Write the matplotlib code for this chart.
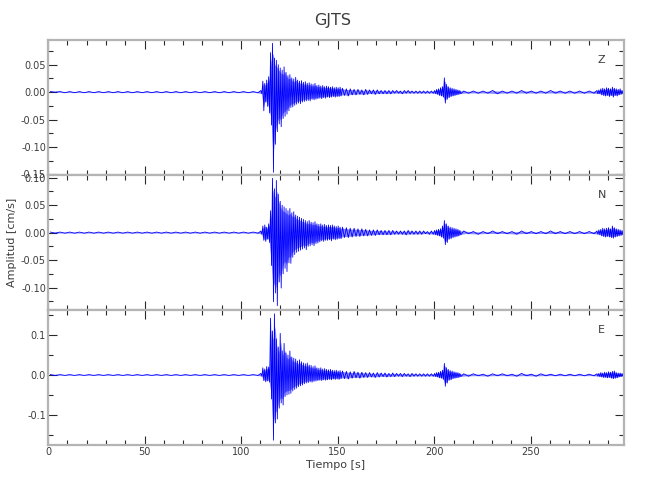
import numpy as np
import matplotlib
matplotlib.use("Agg")
import matplotlib.pyplot as plt
from matplotlib.ticker import MultipleLocator, FormatStrFormatter

# ---------------- data ----------------
title = "GJTS"
components = ["Z", "N", "E"]
x_label = "Tiempo [s]"
y_label = "Amplitud [cm/s]"

# time segments: start, end, bin width (s)
seg_start = [0, 110, 152, 200, 214, 284]
seg_end = [110, 152, 200, 214, 284, 298]
seg_step = [5, 1, 2, 1, 5, 1]

# envelope (upper / lower peak) per time bin, cm/s
z_hi = [0.001, 0.001, 0.001, 0.001, 0.001, 0.001, 0.001, 0.001, 0.001, 0.001, 0.001, 0.001, 0.001, 0.001, 0.001, 0.001, 0.001, 0.001, 0.001, 0.001, 0.001, 0.001,
        0.003, 0.020, 0.016, 0.022, 0.028, 0.072, 0.089, 0.062, 0.058, 0.050, 0.044, 0.040, 0.046, 0.036, 0.030, 0.032, 0.026, 0.024, 0.027, 0.022, 0.020,
        0.021, 0.018, 0.019, 0.016, 0.017, 0.015, 0.014, 0.016, 0.012, 0.013, 0.011, 0.012, 0.010, 0.011, 0.010, 0.009, 0.010, 0.008, 0.009, 0.008, 0.009,
        0.007, 0.006, 0.006, 0.005, 0.005, 0.004, 0.005, 0.004, 0.004, 0.004, 0.003, 0.003, 0.003, 0.003, 0.003, 0.002, 0.003, 0.003, 0.002, 0.002, 0.002, 0.002, 0.002, 0.002,
        0.003, 0.005, 0.006, 0.008, 0.010, 0.026, 0.014, 0.010, 0.008, 0.007, 0.006, 0.005, 0.004, 0.003,
        0.002, 0.002, 0.002, 0.003, 0.002, 0.002, 0.003, 0.002, 0.002, 0.003, 0.002, 0.002, 0.002, 0.002,
        0.003, 0.004, 0.006, 0.007, 0.006, 0.008, 0.007, 0.006, 0.009, 0.007, 0.006, 0.005, 0.006, 0.003]
z_lo = [0.000, -0.001, -0.001, -0.001, -0.001, -0.001, -0.001, -0.001, -0.001, -0.001, -0.001, -0.001, -0.001, -0.001, -0.001, -0.001, -0.001, -0.001, -0.001, -0.001, -0.001, -0.001,
        -0.003, -0.034, -0.018, -0.026, -0.038, -0.060, -0.146, -0.095, -0.072, -0.058, -0.063, -0.048, -0.044, -0.040, -0.034, -0.028, -0.027, -0.024, -0.022, -0.020, -0.021,
        -0.018, -0.017, -0.016, -0.015, -0.016, -0.013, -0.014, -0.013, -0.012, -0.011, -0.012, -0.010, -0.011, -0.009, -0.010, -0.009, -0.008, -0.009, -0.008, -0.008, -0.007,
        -0.006, -0.007, -0.005, -0.005, -0.004, -0.005, -0.004, -0.003, -0.004, -0.003, -0.003, -0.003, -0.003, -0.002, -0.002, -0.003, -0.002, -0.002, -0.002, -0.002, -0.002, -0.002, -0.002, -0.002,
        -0.003, -0.004, -0.006, -0.007, -0.009, -0.020, -0.013, -0.010, -0.008, -0.007, -0.006, -0.005, -0.004, -0.003,
        -0.002, -0.002, -0.002, -0.003, -0.002, -0.002, -0.002, -0.002, -0.002, -0.002, -0.002, -0.002, -0.002, -0.002,
        -0.003, -0.003, -0.005, -0.006, -0.007, -0.006, -0.008, -0.006, -0.009, -0.006, -0.007, -0.005, -0.004, -0.003]

n_hi = [0.001, 0.001, 0.001, 0.001, 0.001, 0.001, 0.001, 0.001, 0.001, 0.001, 0.001, 0.001, 0.001, 0.001, 0.001, 0.001, 0.001, 0.001, 0.001, 0.001, 0.001, 0.001,
        0.003, 0.012, 0.014, 0.010, 0.016, 0.040, 0.099, 0.080, 0.095, 0.070, 0.057, 0.050, 0.047, 0.044, 0.040, 0.044, 0.036, 0.038, 0.032, 0.030, 0.028,
        0.026, 0.024, 0.022, 0.020, 0.022, 0.019, 0.018, 0.020, 0.016, 0.015, 0.016, 0.014, 0.015, 0.013, 0.014, 0.013, 0.014, 0.012, 0.011, 0.012, 0.010,
        0.010, 0.009, 0.008, 0.008, 0.007, 0.007, 0.006, 0.005, 0.005, 0.005, 0.004, 0.004, 0.004, 0.004, 0.003, 0.003, 0.003, 0.004, 0.003, 0.003, 0.003, 0.003, 0.002, 0.003,
        0.004, 0.005, 0.006, 0.007, 0.012, 0.022, 0.016, 0.012, 0.010, 0.009, 0.008, 0.007, 0.006, 0.004,
        0.003, 0.002, 0.002, 0.003, 0.002, 0.002, 0.003, 0.002, 0.002, 0.003, 0.002, 0.002, 0.002, 0.002,
        0.003, 0.005, 0.006, 0.008, 0.007, 0.008, 0.009, 0.007, 0.012, 0.009, 0.007, 0.006, 0.005, 0.004]
n_lo = [-0.001, -0.001, -0.001, -0.001, -0.001, -0.001, -0.001, -0.001, -0.001, -0.001, -0.001, -0.001, -0.001, -0.001, -0.001, -0.001, -0.001, -0.001, -0.001, -0.001, -0.001, -0.001,
        -0.003, -0.014, -0.016, -0.012, -0.018, -0.060, -0.126, -0.110, -0.133, -0.090, -0.101, -0.075, -0.065, -0.071, -0.055, -0.056, -0.045, -0.040, -0.036, -0.034, -0.032,
        -0.030, -0.028, -0.031, -0.025, -0.024, -0.022, -0.024, -0.020, -0.019, -0.017, -0.015, -0.016, -0.014, -0.014, -0.013, -0.015, -0.012, -0.013, -0.012, -0.011, -0.011,
        -0.009, -0.009, -0.008, -0.007, -0.007, -0.006, -0.006, -0.005, -0.005, -0.004, -0.004, -0.004, -0.004, -0.003, -0.003, -0.003, -0.004, -0.003, -0.003, -0.003, -0.003, -0.002, -0.003, -0.003,
        -0.004, -0.005, -0.006, -0.008, -0.010, -0.022, -0.018, -0.012, -0.011, -0.009, -0.008, -0.007, -0.006, -0.004,
        -0.002, -0.003, -0.002, -0.002, -0.002, -0.003, -0.002, -0.002, -0.002, -0.002, -0.002, -0.002, -0.002, -0.002,
        -0.003, -0.004, -0.006, -0.007, -0.008, -0.007, -0.008, -0.009, -0.010, -0.008, -0.007, -0.006, -0.005, -0.004]

e_hi = [0.001, 0.001, 0.001, 0.001, 0.001, 0.001, 0.001, 0.001, 0.001, 0.001, 0.001, 0.001, 0.001, 0.001, 0.001, 0.001, 0.001, 0.001, 0.001, 0.001, 0.001, 0.001,
        0.004, 0.018, 0.015, 0.021, 0.020, 0.142, 0.110, 0.153, 0.090, 0.070, 0.104, 0.060, 0.079, 0.055, 0.050, 0.060, 0.045, 0.042, 0.040, 0.035, 0.038,
        0.033, 0.030, 0.028, 0.030, 0.025, 0.024, 0.021, 0.023, 0.018, 0.017, 0.018, 0.015, 0.016, 0.014, 0.013, 0.014, 0.012, 0.011, 0.012, 0.010, 0.011,
        0.010, 0.009, 0.008, 0.009, 0.007, 0.007, 0.006, 0.006, 0.005, 0.006, 0.005, 0.005, 0.004, 0.005, 0.004, 0.004, 0.004, 0.003, 0.004, 0.003, 0.003, 0.003, 0.003, 0.003,
        0.004, 0.006, 0.007, 0.009, 0.012, 0.029, 0.018, 0.014, 0.011, 0.010, 0.008, 0.007, 0.006, 0.004,
        0.003, 0.003, 0.002, 0.003, 0.003, 0.002, 0.004, 0.002, 0.003, 0.002, 0.002, 0.002, 0.002, 0.002,
        0.003, 0.004, 0.006, 0.005, 0.007, 0.006, 0.008, 0.007, 0.009, 0.010, 0.006, 0.005, 0.005, 0.004]
e_lo = [-0.001, -0.001, -0.001, -0.001, -0.001, -0.001, -0.001, -0.001, -0.001, -0.001, -0.001, -0.001, -0.001, -0.001, -0.001, -0.001, -0.001, -0.001, -0.001, -0.001, -0.001, -0.001,
        -0.003, -0.014, -0.017, -0.015, -0.018, -0.060, -0.163, -0.120, -0.110, -0.083, -0.070, -0.075, -0.054, -0.050, -0.048, -0.046, -0.040, -0.036, -0.033, -0.029, -0.027,
        -0.025, -0.022, -0.020, -0.019, -0.017, -0.018, -0.016, -0.015, -0.014, -0.013, -0.014, -0.012, -0.013, -0.012, -0.011, -0.012, -0.010, -0.011, -0.010, -0.011, -0.009,
        -0.009, -0.010, -0.008, -0.007, -0.008, -0.006, -0.006, -0.005, -0.006, -0.005, -0.004, -0.005, -0.004, -0.004, -0.003, -0.004, -0.003, -0.004, -0.003, -0.003, -0.003, -0.003, -0.003, -0.003,
        -0.004, -0.005, -0.007, -0.008, -0.011, -0.028, -0.020, -0.013, -0.012, -0.009, -0.008, -0.007, -0.006, -0.004,
        -0.003, -0.002, -0.003, -0.002, -0.002, -0.003, -0.002, -0.003, -0.002, -0.002, -0.002, -0.002, -0.002, -0.002,
        -0.003, -0.004, -0.005, -0.006, -0.006, -0.007, -0.006, -0.008, -0.009, -0.008, -0.007, -0.005, -0.004, -0.003]

hi_all = [z_hi, n_hi, e_hi]
lo_all = [z_lo, n_lo, e_lo]

# axis ranges
x_range = (0, 298)
y_ranges = [(-0.151, 0.095), (-0.141, 0.105), (-0.175, 0.1625)]
y_major = [0.05, 0.05, 0.1]
y_minor = [0.025, 0.025, 0.05]
y_fmt = ["%.2f", "%.2f", "%.1f"]

# ---------------- figure ----------------
FRAME = "#b4b4b4"
TEXT = "#3c3c3c"
TICK = "#2a2a2a"
TRACE = "#0000ff"

plt.rcParams["font.family"] = ["DejaVu Sans"]
fig = plt.figure(figsize=(6.5, 5.0), dpi=100)
fig.patch.set_facecolor("white")

left, width = 48 / 650, (623.5 - 48) / 650
tops_px = [40, 175, 310]
h_px = 135

# bin start/width
t0 = np.concatenate([np.arange(s, e, d) for s, e, d in zip(seg_start, seg_end, seg_step)])
w0 = np.concatenate([np.full(len(np.arange(s, e, d)), d) for s, e, d in zip(seg_start, seg_end, seg_step)])

axes = []
for i, comp in enumerate(components):
    bottom = 1 - (tops_px[i] + h_px) / 500
    ax = fig.add_axes([left, bottom, width, h_px / 500])
    axes.append(ax)
    hi = np.asarray(hi_all[i])
    lo = np.asarray(lo_all[i])
    assert len(hi) == len(t0) and len(lo) == len(t0)
    # envelope band (dense oscillation) + the trace itself
    ax.fill_between(t0 + 0.5 * w0, lo * 0.8, hi * 0.8, color=TRACE, alpha=0.45,
                    lw=0, zorder=2)
    tt = np.column_stack([t0 + 0.25 * w0, t0 + 0.75 * w0]).ravel()
    vv = np.column_stack([hi, lo]).ravel()
    ax.plot(tt, vv, color=TRACE, lw=0.6, zorder=3)
    ax.set_xlim(*x_range)
    ax.set_ylim(*y_ranges[i])
    ax.xaxis.set_major_locator(MultipleLocator(50))
    ax.xaxis.set_minor_locator(MultipleLocator(10))
    ax.yaxis.set_major_locator(MultipleLocator(y_major[i]))
    ax.yaxis.set_minor_locator(MultipleLocator(y_minor[i]))
    ax.yaxis.set_major_formatter(FormatStrFormatter(y_fmt[i]))
    for sp in ax.spines.values():
        sp.set_color(FRAME)
        sp.set_linewidth(1.6)
        sp.set_zorder(5)
    ax.tick_params(which="both", direction="in", top=True, right=True,
                   color=TICK, labelcolor=TEXT, labelsize=7, width=0.8, pad=1.5)
    ax.tick_params(which="major", length=6.5)
    ax.tick_params(which="minor", length=3.5)
    if i < 2:
        ax.tick_params(labelbottom=False)
    ax.text(0.962, 0.85, comp, transform=ax.transAxes, color=TEXT,
            fontsize=8, ha="center", va="center")

axes[-1].set_xlabel(x_label, color=TEXT, fontsize=8, labelpad=2)
fig.text(333 / 650, 1 - 20 / 500, title, color=TEXT, fontsize=11.5, ha="center", va="center")
fig.text(12 / 650, 1 - 242 / 500, y_label, color=TEXT, fontsize=8, rotation=90,
         ha="center", va="center")

fig.savefig("out.png", dpi=100, facecolor="white")
